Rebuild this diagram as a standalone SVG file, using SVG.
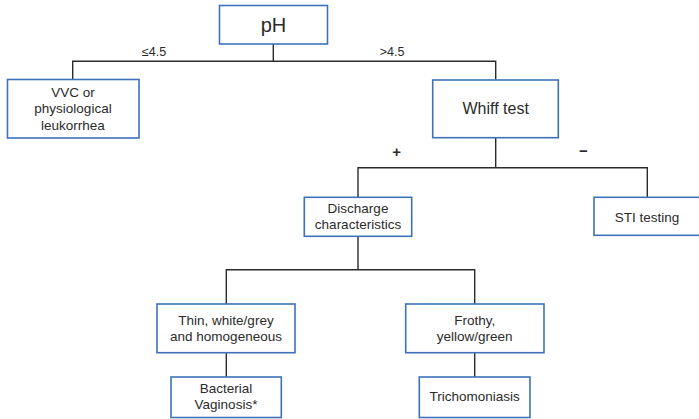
<svg xmlns="http://www.w3.org/2000/svg" width="699" height="419" viewBox="0 0 699 419">
  <style>
    .box { fill: #ffffff; stroke: #3d72ba; stroke-width: 1.6; }
    .link { fill: none; stroke: #2b2b2b; stroke-width: 1.4; }
    text { font-family: "Liberation Sans", Arial, sans-serif; fill: #2b2b2b; text-anchor: middle; }
    .t { font-size: 13.5px; }
    .lbl { font-size: 12.5px; }
    .sign { font-size: 15px; font-weight: bold; }
  </style>
  <rect width="699" height="419" fill="#ffffff"/>

  <g id="connectors">
    <path class="link" d="M273.3 44 V61.3 M72.7 79.5 V61.3 H495.7 V79.5"/>
    <path class="link" d="M495.7 137.7 V167.7 M358 197.3 V167.7 H647.3 V197.3"/>
    <path class="link" d="M358 236.3 V269.7 M226.3 304 V269.7 H474.7 V304"/>
    <path class="link" d="M226.3 352.7 V377"/>
    <path class="link" d="M474.7 352.7 V377"/>
    <text class="lbl" x="154" y="56">≤4.5</text>
    <text class="lbl" x="392" y="56">&gt;4.5</text>
    <text class="sign" x="396.7" y="157">+</text>
    <text class="sign" x="583.3" y="156">−</text>
  </g>

  <g id="ph">
    <rect class="box" x="219.5" y="5.5" width="108" height="38.5"/>
    <text x="273.5" y="32" style="font-size:20px">pH</text>
  </g>

  <g id="vvc">
    <rect class="box" x="7.5" y="79.5" width="131.5" height="58.5"/>
    <text class="t" x="73" y="97">VVC or</text>
    <text class="t" x="73" y="113">physiological</text>
    <text class="t" x="73" y="129.5">leukorrhea</text>
  </g>

  <g id="whiff">
    <rect class="box" x="432.7" y="80" width="125.6" height="57.7"/>
    <text x="495.7" y="114" style="font-size:16px">Whiff test</text>
  </g>

  <g id="discharge">
    <rect class="box" x="304.3" y="197.3" width="107.4" height="39"/>
    <text class="t" x="358" y="213">Discharge</text>
    <text class="t" x="358" y="228.5">characteristics</text>
  </g>

  <g id="sti">
    <rect class="box" x="594" y="197.3" width="108" height="38"/>
    <text class="t" x="647" y="221.5">STI testing</text>
  </g>

  <g id="thin">
    <rect class="box" x="157" y="304" width="138" height="48.7"/>
    <text class="t" x="226" y="325">Thin, white/grey</text>
    <text class="t" x="226" y="341">and homogeneous</text>
  </g>

  <g id="frothy">
    <rect class="box" x="405.7" y="304" width="138.3" height="48.7"/>
    <text class="t" x="474.7" y="325">Frothy,</text>
    <text class="t" x="474.7" y="341">yellow/green</text>
  </g>

  <g id="bv">
    <rect class="box" x="171" y="377" width="110.3" height="40.5"/>
    <text class="t" x="226" y="392.7">Bacterial</text>
    <text class="t" x="226" y="408.5">Vaginosis*</text>
  </g>

  <g id="trich">
    <rect class="box" x="419.3" y="377" width="110.7" height="40.5"/>
    <text class="t" x="474.7" y="400.5">Trichomoniasis</text>
  </g>
</svg>
